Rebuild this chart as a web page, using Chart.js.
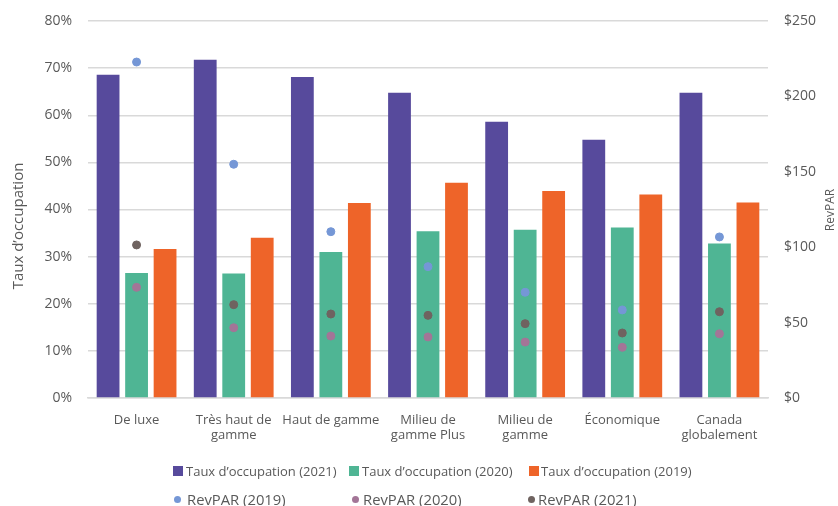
<!DOCTYPE html>
<html><head><meta charset="utf-8">
<script src="https://cdn.jsdelivr.net/npm/chart.js@4/dist/chart.umd.min.js"></script>
<style>
html,body{margin:0;padding:0;background:#fff;}
#wrap{position:relative;width:838px;height:506px;font-family:"Open Sans",sans-serif;color:#595959;overflow:hidden;}
#c{position:absolute;left:0;top:0;}
.lg{position:absolute;white-space:nowrap;}
.r1{font-size:13px;line-height:16px;}
.r2{font-size:14.8px;line-height:18px;}
.mk{position:absolute;}
</style></head>
<body>
<div id="wrap">
<canvas id="c" width="838" height="506"></canvas>
<div class="mk" style="left:173px;top:466px;width:10px;height:10px;background:#574a9c"></div>
<div class="lg r1" style="left:186px;top:462.7px">Taux d’occupation (2021)</div>
<div class="mk" style="left:349px;top:466px;width:10px;height:10px;background:#4fb594"></div>
<div class="lg r1" style="left:362px;top:462.7px">Taux d’occupation (2020)</div>
<div class="mk" style="left:529px;top:466px;width:10px;height:10px;background:#ee6429"></div>
<div class="lg r1" style="left:541px;top:462.7px">Taux d’occupation (2019)</div>
<div class="mk" style="left:174px;top:496px;width:7px;height:7px;border-radius:50%;background:#7597d6"></div>
<div class="lg r2" style="left:187px;top:490.3px">RevPAR (2019)</div>
<div class="mk" style="left:352px;top:496px;width:7px;height:7px;border-radius:50%;background:#a37597"></div>
<div class="lg r2" style="left:363px;top:490.3px">RevPAR (2020)</div>
<div class="mk" style="left:528px;top:496px;width:7px;height:7px;border-radius:50%;background:#6f6360"></div>
<div class="lg r2" style="left:538px;top:490.3px">RevPAR (2021)</div>
</div>
<script>
const categories = [["De luxe"], ["Très haut de","gamme"], ["Haut de gamme"], ["Milieu de","gamme Plus"], ["Milieu de","gamme"], ["Économique"], ["Canada","globalement"]];
const occ2021 = [68.6, 71.8, 68.1, 64.8, 58.6, 54.8, 64.8];
const occ2020 = [26.5, 26.4, 31.0, 35.4, 35.7, 36.2, 32.8];
const occ2019 = [31.6, 34.0, 41.4, 45.7, 43.9, 43.2, 41.5];
const revpar2019 = [222.8, 155.0, 110.3, 87.1, 70.1, 58.4, 106.8];
const revpar2020 = [73.4, 46.6, 41.1, 40.5, 37.1, 33.6, 42.6];
const revpar2021 = [101.5, 61.9, 55.7, 54.8, 49.3, 43.1, 57.2];
const leftTicks = [0,10,20,30,40,50,60,70,80];
const rightTicks = [0,50,100,150,200,250];

const FONT = "'Open Sans', sans-serif";
const TXT = '#595959';

const titlePlugin = {
  id: 'titles',
  afterDraw(chart) {
    const ctx = chart.ctx;
    ctx.save();
    ctx.fillStyle = TXT;
    ctx.textAlign = 'center';
    ctx.textBaseline = 'middle';
    ctx.font = "15px " + FONT;
    ctx.translate(19, 226);
    ctx.rotate(-Math.PI/2);
    ctx.fillText('Taux d’occupation', 0, 0);
    ctx.restore();
    ctx.save();
    ctx.fillStyle = TXT;
    ctx.textAlign = 'center';
    ctx.textBaseline = 'middle';
    ctx.font = "12px " + FONT;
    ctx.translate(831, 210);
    ctx.rotate(-Math.PI/2);
    ctx.fillText('RevPAR', 0, 0);
    ctx.restore();
  }
};

function pointDs(label, data, color) {
  return { type: 'line', label, data, yAxisID: 'y1', showLine: false,
    pointRadius: 4, pointHoverRadius: 4, pointBackgroundColor: color, pointBorderColor: color,
    borderColor: color, backgroundColor: color, order: 0 };
}

new Chart(document.getElementById('c'), {
  type: 'bar',
  data: {
    labels: categories,
    datasets: [
      pointDs('RevPAR (2019)', revpar2019, '#7597d6'),
      pointDs('RevPAR (2020)', revpar2020, '#a37597'),
      pointDs('RevPAR (2021)', revpar2021, '#6f6360'),
      { label: 'Taux d’occupation (2021)', data: occ2021, backgroundColor: '#574a9c', yAxisID: 'y', order: 1 },
      { label: 'Taux d’occupation (2020)', data: occ2020, backgroundColor: '#4fb594', yAxisID: 'y', order: 1 },
      { label: 'Taux d’occupation (2019)', data: occ2019, backgroundColor: '#ee6429', yAxisID: 'y', order: 1 }
    ]
  },
  options: {
    responsive: false,
    animation: false,
    layout: { padding: { top: 21, left: 0, right: 0, bottom: 0 } },
    datasets: { bar: { categoryPercentage: 0.88, barPercentage: 0.8 } },
    plugins: { legend: { display: false }, tooltip: { enabled: false } },
    scales: {
      x: {
        grid: { display: false, drawTicks: false },
        border: { color: '#d9d9d9', width: 1.5 },
        ticks: { color: TXT, font: { family: FONT, size: 13 }, padding: 14, maxRotation: 0, autoSkip: false },
        afterFit(s) { s.height = 108; s.paddingLeft = 0; s.paddingRight = 0; }
      },
      y: {
        position: 'left', min: 0, max: 80,
        afterBuildTicks(s) { s.ticks = leftTicks.map(v => ({ value: v })); },
        grid: { color: '#d9d9d9', lineWidth: 1.5, drawTicks: false },
        border: { display: false },
        ticks: { color: TXT, font: { family: FONT, size: 14 }, padding: 16, callback: v => v + '%' },
        afterFit(s) { s.width = 88; s.paddingTop = 0; s.paddingBottom = 0; }
      },
      y1: {
        position: 'right', min: 0, max: 250,
        afterBuildTicks(s) { s.ticks = rightTicks.map(v => ({ value: v })); },
        grid: { display: false, drawTicks: false },
        border: { display: false },
        ticks: { color: TXT, font: { family: FONT, size: 14 }, padding: 16, callback: v => '$' + v },
        afterFit(s) { s.width = 70; s.paddingTop = 0; s.paddingBottom = 0; }
      }
    }
  },
  plugins: [titlePlugin]
});
</script>
</body></html>
